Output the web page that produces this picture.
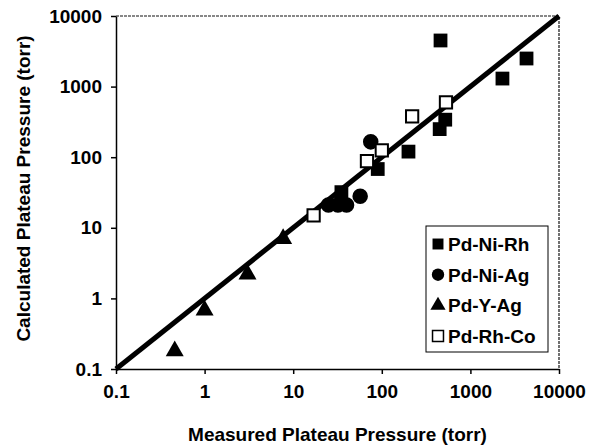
<!DOCTYPE html>
<html>
<head>
<meta charset="utf-8">
<script src="https://cdn.jsdelivr.net/npm/d3@7"></script>
<style>
  body { margin: 0; background: #fff; }
  text { font-family: Arial, "Liberation Sans", sans-serif; font-weight: bold; }
</style>
</head>
<body>
<div id="chart"></div>
<script>
// measured vs calculated plateau pressure (torr), one pair of arrays per alloy
const pdNiRhMeasured = [460, 2300, 4300, 450, 520, 200, 90, 35];
const pdNiRhCalculated = [4500, 1300, 2500, 250, 340, 120, 68, 32];

const pdNiAgMeasured = [75, 57, 25, 32, 40];
const pdNiAgCalculated = [165, 28, 21, 21, 21];

const pdYAgMeasured = [0.46, 1.0, 3.05, 7.7];
const pdYAgCalculated = [0.18, 0.68, 2.2, 7.0];

const pdRhCoMeasured = [17, 68, 100, 220, 530];
const pdRhCoCalculated = [15, 88, 125, 380, 600];

const tickValues = [0.1, 1, 10, 100, 1000, 10000];
const lineEnds = [0.1, 10000];

const width = 597;
const height = 448;
const margin = { left: 116, right: 38, top: 16, bottom: 79 };
const fontSize = 19;

const series = [
  { name: "Pd-Ni-Rh", x: pdNiRhMeasured, y: pdNiRhCalculated, symbol: d3.symbolSquare, open: false },
  { name: "Pd-Ni-Ag", x: pdNiAgMeasured, y: pdNiAgCalculated, symbol: d3.symbolCircle, open: false },
  { name: "Pd-Y-Ag", x: pdYAgMeasured, y: pdYAgCalculated, symbol: d3.symbolTriangle, open: false },
  { name: "Pd-Rh-Co", x: pdRhCoMeasured, y: pdRhCoCalculated, symbol: d3.symbolSquare, open: true },
];

const svg = d3
  .select("#chart")
  .append("svg")
  .attr("width", width)
  .attr("height", height);

const xScale = d3
  .scaleLog()
  .domain([0.1, 10000])
  .range([margin.left, width - margin.right]);

const yScale = d3
  .scaleLog()
  .domain([0.1, 10000])
  .range([height - margin.bottom, margin.top]);

// frame: thin dotted top and right edges like the scan
svg
  .append("path")
  .attr(
    "d",
    `M${margin.left},${margin.top}H${width - margin.right}V${height - margin.bottom}`
  )
  .attr("fill", "none")
  .attr("stroke", "#111")
  .attr("stroke-width", 1.2)
  .attr("stroke-dasharray", "3,1");

const xAxis = d3
  .axisBottom(xScale)
  .tickValues(tickValues)
  .tickFormat((d) => String(d))
  .tickSizeInner(5)
  .tickSizeOuter(0)
  .tickPadding(11);

svg
  .append("g")
  .attr("transform", `translate(0, ${height - margin.bottom})`)
  .call(xAxis)
  .call((g) => {
    g.select(".domain").attr("stroke-width", 1.5);
    g.selectAll("line").attr("stroke-width", 1.5);
    g.selectAll("text").attr("font-size", fontSize).attr("fill", "#000");
  });

const yAxis = d3
  .axisLeft(yScale)
  .tickValues(tickValues)
  .tickFormat((d) => String(d))
  .tickSizeInner(5)
  .tickSizeOuter(0)
  .tickPadding(9);

svg
  .append("g")
  .attr("transform", `translate(${margin.left}, 0)`)
  .call(yAxis)
  .call((g) => {
    g.select(".domain").attr("stroke-width", 1.5);
    g.selectAll("line").attr("stroke-width", 1.5);
    g.selectAll("text").attr("font-size", fontSize).attr("fill", "#000");
  });

// y = x reference line
svg
  .append("line")
  .attr("x1", xScale(lineEnds[0]))
  .attr("y1", yScale(lineEnds[0]))
  .attr("x2", xScale(lineEnds[1]))
  .attr("y2", yScale(lineEnds[1]))
  .attr("stroke", "#000")
  .attr("stroke-width", 5);

const symbolSize = (s) => (s.symbol === d3.symbolTriangle ? 140 : s.open ? 150 : 190);

series.forEach((s) => {
  const points = s.x.map((v, i) => ({ x: v, y: s.y[i] }));
  svg
    .append("g")
    .selectAll("path")
    .data(points)
    .join("path")
    .attr("transform", (d) => `translate(${xScale(d.x)}, ${yScale(d.y)})`)
    .attr("d", d3.symbol(s.symbol, symbolSize(s)))
    .attr("fill", s.open ? "#fff" : "#000")
    .attr("stroke", "#000")
    .attr("stroke-width", s.open ? 2 : 0);
});

// legend
const legend = svg.append("g").attr("transform", "translate(426, 226)");

legend
  .append("rect")
  .attr("width", 122)
  .attr("height", 126)
  .attr("fill", "#fff")
  .attr("stroke", "#000")
  .attr("stroke-width", 1);

const legendRows = legend
  .selectAll(".legend-row")
  .data(series)
  .join("g")
  .attr("class", "legend-row")
  .attr("transform", (d, i) => `translate(12, ${18 + i * 30.7})`);

legendRows
  .append("path")
  .attr("d", (d) => d3.symbol(d.symbol, d.symbol === d3.symbolTriangle ? 100 : 120)())
  .attr("fill", (d) => (d.open ? "#fff" : "#000"))
  .attr("stroke", "#000")
  .attr("stroke-width", (d) => (d.open ? 1.5 : 0));

legendRows
  .append("text")
  .attr("x", 10)
  .attr("dy", "0.36em")
  .attr("font-size", fontSize)
  .text((d) => d.name);

// axis titles
svg
  .append("text")
  .attr("x", (margin.left + width - margin.right) / 2)
  .attr("y", 441)
  .attr("text-anchor", "middle")
  .attr("font-size", fontSize)
  .text("Measured Plateau Pressure (torr)");

svg
  .append("text")
  .attr("transform", `translate(30, ${(margin.top + height - margin.bottom) / 2 - 4}) rotate(-90)`)
  .attr("text-anchor", "middle")
  .attr("font-size", fontSize)
  .text("Calculated Plateau Pressure (torr)");
</script>
</body>
</html>
